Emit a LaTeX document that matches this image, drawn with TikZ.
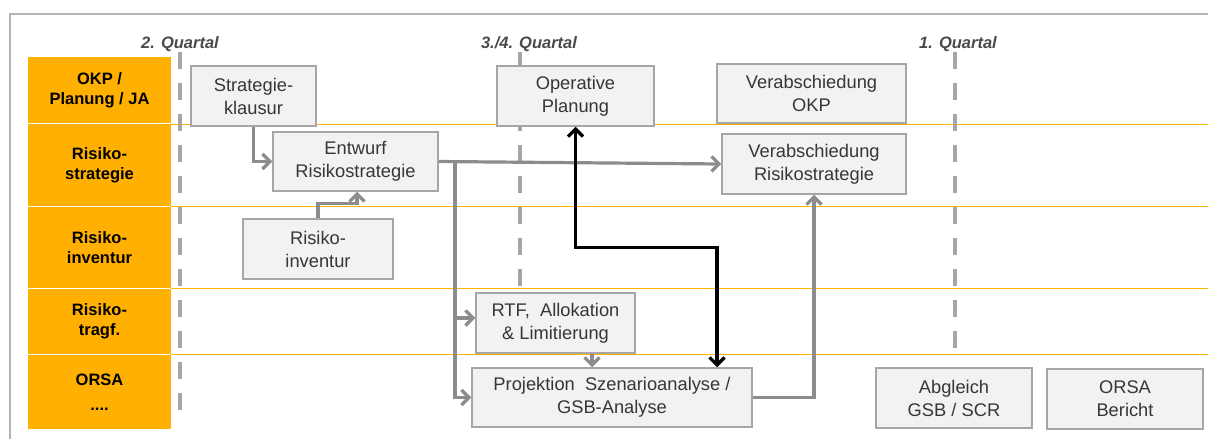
\documentclass[tikz,border=0pt]{standalone}
\usepackage{fontspec}
\setmainfont{Liberation Sans}
\usetikzlibrary{arrows.meta,calc}
\definecolor{orng}{HTML}{FFB000}
\definecolor{orline}{HTML}{FFB400}
\definecolor{boxfill}{HTML}{F2F2F2}
\definecolor{boxdraw}{HTML}{A6A6A6}
\definecolor{connc}{HTML}{8C8C8C}
\definecolor{dashc}{HTML}{A6A6A6}
\definecolor{framec}{HTML}{B3B3B3}
\definecolor{txt}{HTML}{363636}
\begin{document}
\begin{tikzpicture}[x=1pt,y=-1pt,
  lab/.style={fill=orng, minimum width=143pt, inner sep=0pt, align=center,
    font=\fontsize{16.5}{20}\selectfont\bfseries, text=black},
  box/.style={fill=boxfill, draw=boxdraw, line width=1.5pt, inner sep=0pt, align=center,
    font=\fontsize{18.3}{23}\selectfont, text=txt},
  quart/.style={anchor=base, font=\fontsize{16.5}{20}\selectfont\bfseries\itshape, text=txt!90},
  tip/.tip={Straight Barb[length=7.5pt,width=15pt]},
  conn/.style={draw=connc, line width=3.2pt, -tip},
  blk/.style={draw=black, line width=3.2pt, tip-tip},
  qline/.style={draw=dashc, line width=4pt, dash pattern=on 17pt off 14pt},
  oline/.style={draw=orline, line width=1.6pt}
]
\useasboundingbox (0,0) rectangle (1208,439);
% frame
\draw[framec, line width=2pt] (10,445) -- (10,14) -- (1215,14);

% orange lane lines
\draw[oline] (171,124.5) -- (1208,124.5);
\draw[oline] (171,206.5) -- (1208,206.5);
\draw[oline] (171,288.5) -- (1208,288.5);
\draw[oline] (171,354.5) -- (1208,354.5);

% lane labels
\node[lab, minimum height=66pt] (l1) at (99.5,90) {OKP /\\Planung / JA};
\node[lab, minimum height=82pt] (l2) at (99.5,165) {Risiko-\\strategie};
\node[lab, minimum height=81pt] (l3) at (99.5,247.5) {Risiko-\\inventur};
\node[lab, minimum height=65pt] (l4) at (99.5,321.5) {Risiko-\\tragf.};
\node[lab, minimum height=74pt] (l5) at (99.5,392) {ORSA\\[5pt]....};

% quarter markers
\coordinate (q1t) at (180,52); \coordinate (q1b) at (180,421);
\coordinate (q2t) at (520,52); \coordinate (q2b) at (520,358);
\coordinate (q3t) at (955,52); \coordinate (q3b) at (955,354);
\draw[qline] (q1t) -- (q1b);
\draw[qline] (q2t) -- (q2b);
\draw[qline] (q3t) -- (q3b);
\node[quart] (qa) at (180,48) {2. Quartal};
\node[quart] (qb) at (529,48) {3./4. Quartal};
\node[quart] (qc) at (958,48) {1. Quartal};

% boxes
\node[box, minimum width=125pt, minimum height=60pt] (strat) at (253.5,96) {Strategie-\\klausur};
\node[box, minimum width=165pt, minimum height=59pt] (entw) at (355.5,161.5) {Entwurf\\Risikostrategie};
\node[box, minimum width=150pt, minimum height=60pt] (inv) at (318,249) {Risiko-\\inventur};
\node[box, minimum width=157pt, minimum height=60pt] (op) at (575.5,96) {Operative\\Planung};
\node[box, minimum width=189pt, minimum height=59pt] (vokp) at (811.5,93.5) {Verabschiedung\\OKP};
\node[box, minimum width=184pt, minimum height=60pt] (vrs) at (814,164) {Verabschiedung\\Risikostrategie};
\node[box, minimum width=159pt, minimum height=60pt] (rtf) at (555.5,323) {RTF,\ \ Allokation\\\& Limitierung};
\node[box, minimum width=280pt, minimum height=59pt] (proj) at (612,397.5) {Projektion\ \ Szenarioanalyse /\\GSB-Analyse};
\node[box, minimum width=156pt, minimum height=60pt] (abg) at (954,398) {Abgleich\\GSB / SCR};
\node[box, minimum width=156pt, minimum height=60pt] (orsa) at (1125,399) {ORSA\\Bericht};

% connectors
\draw[conn] (strat.south) |- (entw.west);
\draw[conn] (inv.north) -- ++(0,-15) -| ([xshift=1.5pt]entw.south);
\draw[conn] (entw.east) -- (vrs.west);
\coordinate (br) at (455,161.5);
\draw[conn] (br) |- ([yshift=5pt]rtf.west);
\draw[conn] (br) |- (proj.west);
\draw[conn] ([xshift=36.5pt]rtf.south) -- ([xshift=-20pt]proj.north);
\draw[conn] (proj.east) -| (vrs.south);
\draw[blk] (op.south) -- ++(0,121) -| ([xshift=105pt]proj.north);
\end{tikzpicture}
\end{document}
